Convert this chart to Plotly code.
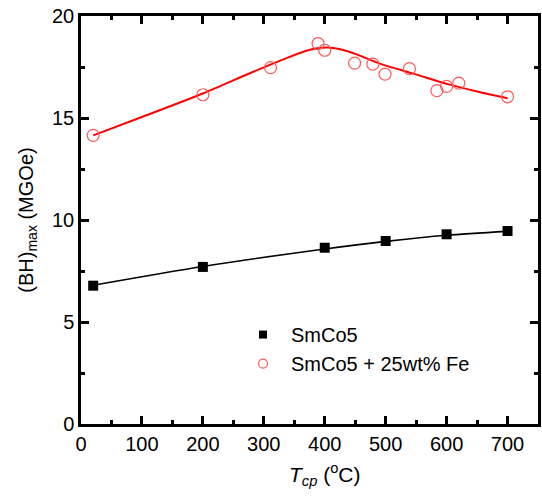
import plotly.graph_objects as go

# SmCo5 data
smco5_x = [20, 200, 400, 500, 600, 700]
smco5_y = [6.78, 7.70, 8.64, 8.97, 9.30, 9.46]
# SmCo5 + 25wt% Fe data
fe_x = [20, 200, 311, 389, 400, 449, 479, 499, 539, 584, 600, 620, 700]
fe_y = [14.15, 16.14, 17.47, 18.65, 18.32, 17.69, 17.64, 17.15, 17.42, 16.34, 16.55, 16.71, 16.04]
# fitted guide curves
smco5_fit_x = [20, 200, 400, 500, 600, 700]
smco5_fit_y = [6.80, 7.72, 8.58, 8.95, 9.25, 9.44]
fe_fit_x = [20, 100, 200, 276, 330, 370, 403, 440, 493, 548, 602, 650, 700]
fe_fit_y = [14.15, 15.05, 16.20, 17.18, 17.85, 18.30, 18.45, 18.25, 17.64, 17.15, 16.66, 16.30, 15.97]

x_ticks = [0, 100, 200, 300, 400, 500, 600, 700]
y_ticks = [0, 5, 10, 15, 20]
series_names = ["SmCo5", "SmCo5 + 25wt% Fe"]

FONT = "Arial, Liberation Sans, sans-serif"
RED_M = "#ff5a5a"

fig = go.Figure()
fig.add_trace(go.Scatter(x=fe_fit_x, y=fe_fit_y, mode="lines",
                         line=dict(color="#ff0000", width=2, shape="spline", smoothing=0.8),
                         showlegend=False, hoverinfo="skip"))
fig.add_trace(go.Scatter(x=smco5_fit_x, y=smco5_fit_y, mode="lines",
                         line=dict(color="black", width=1.6, shape="spline", smoothing=0.8),
                         showlegend=False, hoverinfo="skip"))
fig.add_trace(go.Scatter(x=smco5_x, y=smco5_y, mode="markers", name=series_names[0],
                         showlegend=False,
                         marker=dict(symbol="square", size=10, color="black")))
fig.add_trace(go.Scatter(x=fe_x, y=fe_y, mode="markers", name=series_names[1],
                         showlegend=False,
                         marker=dict(symbol="circle-open", size=12, color=RED_M,
                                     line=dict(width=1.2, color=RED_M))))
# legend entries (smaller symbols as in reference)
fig.add_trace(go.Scatter(x=[None], y=[None], mode="markers", name=series_names[0],
                         marker=dict(symbol="square", size=8, color="black")))
fig.add_trace(go.Scatter(x=[None], y=[None], mode="markers", name=series_names[1],
                         marker=dict(symbol="circle-open", size=9, color=RED_M,
                                     line=dict(width=1.2, color=RED_M))))

axis_common = dict(showline=True, linecolor="black", linewidth=2.5, mirror="ticks",
                   ticks="inside", ticklen=8, tickwidth=2.5, tickcolor="black",
                   showgrid=False, zeroline=False,
                   tickfont=dict(family=FONT, size=20, color="black"))

fig.update_xaxes(range=[0, 750], tickvals=x_ticks, ticktext=[str(v) for v in x_ticks],
                 minor=dict(dtick=50, tick0=0, ticks="inside", ticklen=4, tickwidth=2.5,
                            tickcolor="black", showgrid=False),
                 **axis_common)
fig.update_yaxes(range=[0, 20], tickvals=y_ticks, ticktext=[str(v) for v in y_ticks],
                 minor=dict(dtick=2.5, tick0=0, ticks="inside", ticklen=4, tickwidth=2.5,
                            tickcolor="black", showgrid=False),
                 title=dict(text="(BH)<sub>max</sub> (MGOe)",
                            font=dict(family=FONT, size=20, color="black"), standoff=14),
                 **axis_common)

fig.add_annotation(text="<i>T</i><sub><i>cp</i></sub> (<sup>o</sup>C)",
                   xref="paper", yref="paper", x=0.533, y=0, xanchor="center", yanchor="top",
                   yshift=-34, showarrow=False,
                   font=dict(family=FONT, size=21, color="black"))

fig.update_layout(
    width=542, height=498,
    margin=dict(l=81, r=1, t=16, b=74),
    paper_bgcolor="white", plot_bgcolor="white",
    font=dict(family=FONT, size=20, color="black"),
    legend=dict(x=0.337, y=0.267, xanchor="left", yanchor="top",
                bgcolor="rgba(0,0,0,0)", borderwidth=0, itemwidth=46,
                font=dict(family=FONT, size=20, color="black")),
)

fig.write_html("out.html")
